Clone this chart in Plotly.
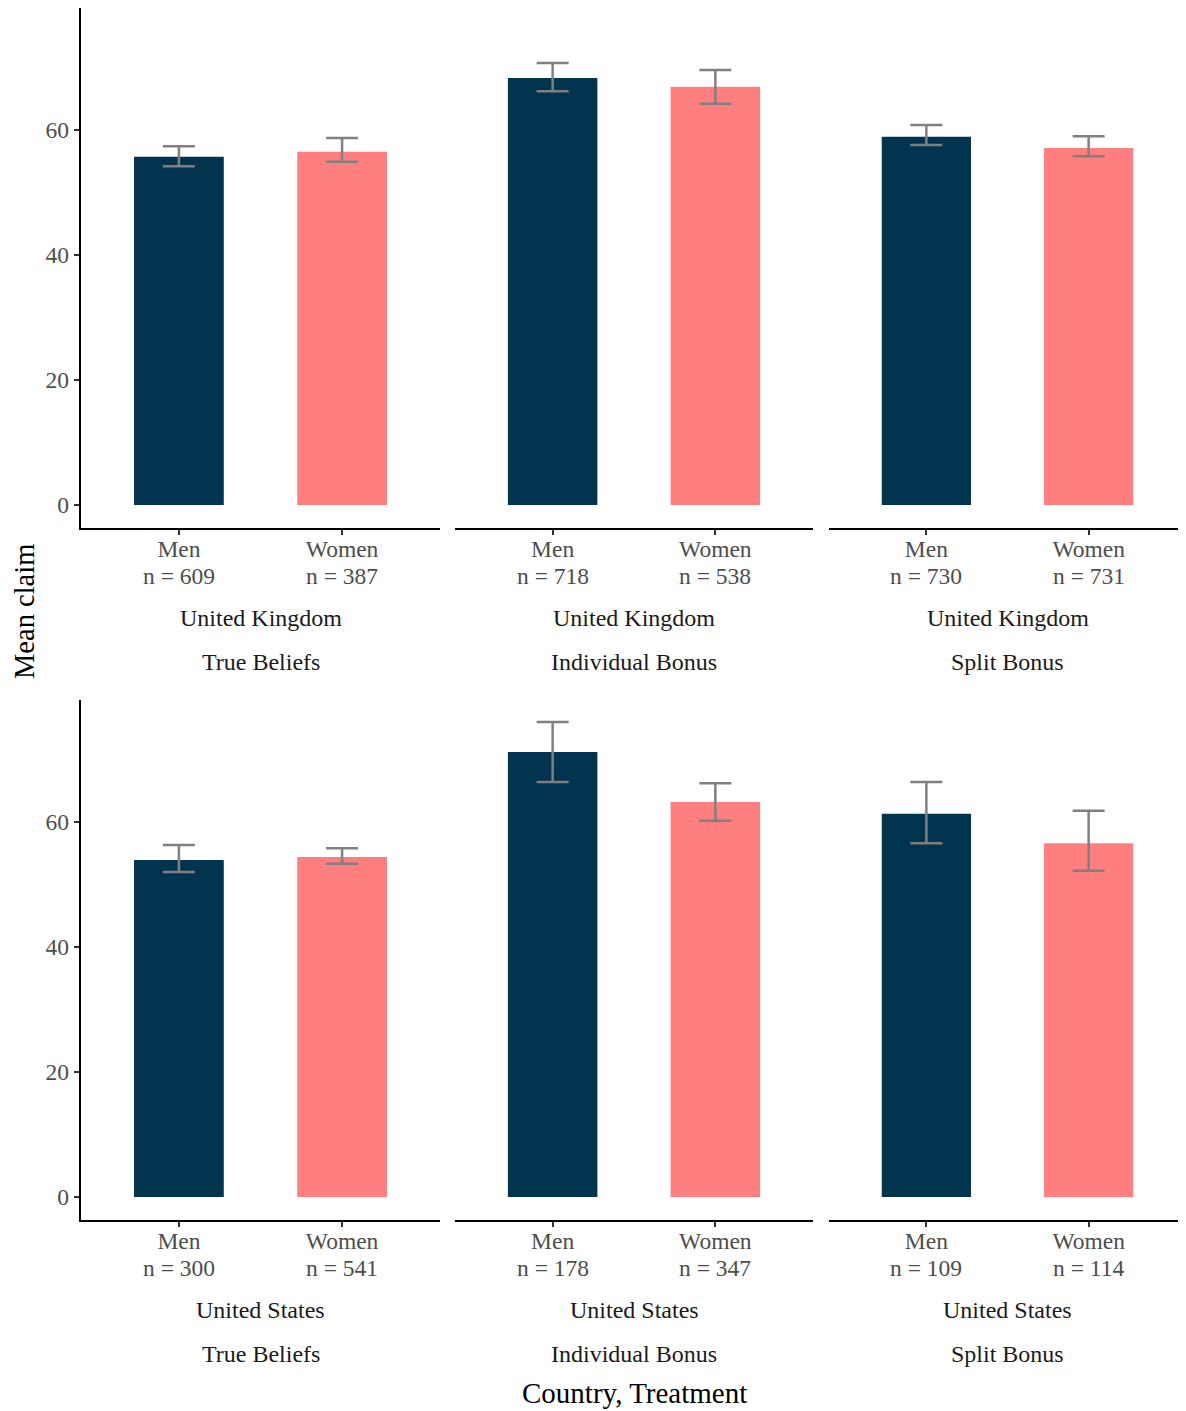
import plotly.graph_objects as go

W, H = 1186, 1411
OFF = 8  # body margin of the html page
FW, FH = W - OFF, H - OFF

countries = ["United Kingdom", "United Kingdom", "United Kingdom",
             "United States", "United States", "United States"]
treatments = ["True Beliefs", "Individual Bonus", "Split Bonus",
              "True Beliefs", "Individual Bonus", "Split Bonus"]
genders = ["Men", "Women"]

men_mean = [55.7, 68.3, 58.9, 53.9, 71.2, 61.3]
men_hi = [57.4, 70.7, 60.8, 56.3, 76.0, 66.4]
men_lo = [54.2, 66.2, 57.6, 52.0, 66.4, 56.6]
men_n = [609, 718, 730, 300, 178, 109]

women_mean = [56.5, 66.9, 57.1, 54.4, 63.2, 56.6]
women_hi = [58.7, 69.6, 59.0, 55.8, 66.2, 61.8]
women_lo = [54.9, 64.2, 55.8, 53.3, 60.2, 52.2]
women_n = [387, 538, 731, 541, 347, 114]

y_ticks = [0, 20, 40, 60]

colors = {"Men": "#02344F", "Women": "#FF7F7F"}
FONT = "Liberation Serif"

# pixel layout (page pixels)
xcols = [(81, 440), (455, 813), (829, 1186)]
yrows = [(8, 528), (700, 1220)]


def px(x):
    return (x - OFF) / FW


def py(y):
    return 1 - (y - OFF) / FH


fig = go.Figure()
layout = dict(
    width=FW, height=FH, margin=dict(l=0, r=0, t=0, b=0),
    paper_bgcolor="white", plot_bgcolor="white",
    showlegend=False, font=dict(family=FONT),
    annotations=[],
)

for i in range(6):
    r, c = divmod(i, 3)
    idx = i + 1
    xa = "x" if idx == 1 else f"x{idx}"
    ya = "y" if idx == 1 else f"y{idx}"
    means = [men_mean[i], women_mean[i]]
    his = [men_hi[i], women_hi[i]]
    los = [men_lo[i], women_lo[i]]
    for j, g in enumerate(genders):
        fig.add_trace(go.Bar(
            x=[j + 1], y=[means[j]], width=0.55,
            marker=dict(color=colors[g], line=dict(width=0)),
            error_y=dict(type="data", symmetric=False,
                         array=[his[j] - means[j]],
                         arrayminus=[means[j] - los[j]],
                         color="#808080", thickness=2.5, width=16),
            xaxis=xa, yaxis=ya,
        ))
    x0, x1 = xcols[c]
    y0, y1 = yrows[r]
    ns = [men_n[i], women_n[i]]
    layout["xaxis" if idx == 1 else f"xaxis{idx}"] = dict(
        domain=[px(x0), px(x1)], anchor=ya, range=[0.4, 2.6],
        tickvals=[1, 2], ticktext=genders,
        showline=True, linecolor="black", linewidth=2.4,
        ticks="outside", ticklen=5, tickwidth=2, tickcolor="#333333",
        ticklabelstandoff=-6,
        tickfont=dict(family=FONT, size=23.5, color="#4d4d4d"),
        showgrid=False, zeroline=False, fixedrange=True,
    )
    layout["yaxis" if idx == 1 else f"yaxis{idx}"] = dict(
        domain=[py(y1), py(y0)], anchor=xa, range=[-3.68, 79.5],
        tickvals=y_ticks, ticktext=[str(v) for v in y_ticks],
        showline=(c == 0), linecolor="black", linewidth=2.4,
        ticks="outside" if c == 0 else "", ticklen=5, tickwidth=2,
        tickcolor="#333333", showticklabels=(c == 0),
        tickfont=dict(family=FONT, size=23.5, color="#4d4d4d"),
        showgrid=False, zeroline=False,
    )
    # sample-size line beneath each category label
    for j in range(2):
        layout["annotations"].append(dict(
            x=j + 1, y=py(y1 + 48), xref=xa, yref="paper",
            text=f"n = {ns[j]}", showarrow=False,
            xanchor="center", yanchor="middle",
            font=dict(family=FONT, size=23.5, color="#4d4d4d")))
    cx = px((x0 + x1) / 2)
    layout["annotations"].append(dict(
        x=cx, y=py(y1 + 90), xref="paper", yref="paper",
        text=countries[i], showarrow=False,
        xanchor="center", yanchor="middle",
        font=dict(family=FONT, size=24, color="#1a1a1a")))
    layout["annotations"].append(dict(
        x=cx, y=py(y1 + 134), xref="paper", yref="paper",
        text=treatments[i], showarrow=False,
        xanchor="center", yanchor="middle",
        font=dict(family=FONT, size=24, color="#1a1a1a")))

layout["annotations"].append(dict(
    x=px(634), y=py(1393), xref="paper", yref="paper",
    text="Country, Treatment", showarrow=False,
    xanchor="center", yanchor="middle",
    font=dict(family=FONT, size=29, color="black")))
layout["annotations"].append(dict(
    x=px(24), y=py(612), xref="paper", yref="paper",
    text="Mean claim", showarrow=False, textangle=-90,
    xanchor="center", yanchor="middle",
    font=dict(family=FONT, size=28.5, color="black")))

fig.update_layout(**layout)
fig.write_html("out.html")
